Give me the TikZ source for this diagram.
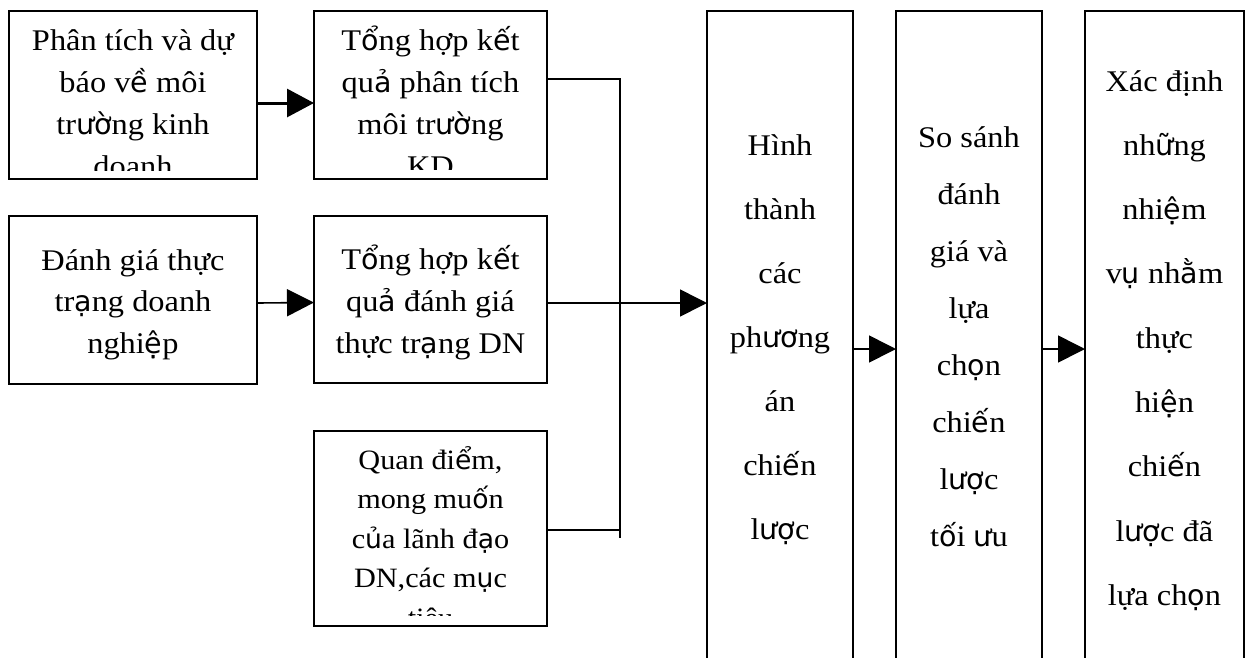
\documentclass[tikz,border=0pt]{standalone}
\usepackage{fontspec}
\setmainfont{Liberation Serif}[FakeStretch=1.08]
\newfontfamily\vnsans{DejaVu Sans}[Scale=0.95,FakeStretch=1.0]
\newcommand\vsg[1]{{\vnsans #1}}
\usetikzlibrary{arrows.meta}
\tikzset{
  box/.style={draw, line width=1.5pt, inner sep=0pt, outer sep=0pt, anchor=north west},
  txt/.style={anchor=base, inner sep=0pt, outer sep=0pt},
  link/.style={line width=1.5pt},
  arr/.style={line width=1.6pt, -{Triangle[length=27pt,width=27pt]}},
  thickarr/.style={line width=3pt, -{Triangle[length=27pt,width=28pt]}},
}
\begin{document}
\begin{tikzpicture}[x=1pt,y=-1pt]
\useasboundingbox (0,0) rectangle (1251,657);
\clip (0,0) rectangle (1251,657);
\fill[white] (0,0) rectangle (1251,657);

% boxes
\node[box, minimum width=248pt, minimum height=168pt] (A1) at (9,11) {};
\node[box, minimum width=233pt, minimum height=168pt] (B1) at (314,11) {};
\node[box, minimum width=248pt, minimum height=168pt] (A2) at (9,216) {};
\node[box, minimum width=233pt, minimum height=167pt] (B2) at (314,216) {};
\node[box, minimum width=233pt, minimum height=195pt] (B3) at (314,431) {};
\node[box, minimum width=146pt, minimum height=700pt] (C) at (707,11) {};
\node[box, minimum width=146pt, minimum height=700pt] (D) at (896,11) {};
\node[box, minimum width=159pt, minimum height=700pt] (E) at (1085,11) {};

% texts
\begin{scope}
\clip (9,11) rectangle (257,170);
\node[txt] (tA1) at (133,50.5) {\parbox[t]{240pt}{\centering\fontsize{30}{42}\selectfont
Phân tích và dự\\ báo v\vsg{ề} môi\\ tr\vsg{ườ}ng kinh\\ doanh}};
\end{scope}
\begin{scope}
\clip (314,11) rectangle (547,169);
\node[txt] (tB1) at (430.5,50.5) {\parbox[t]{228pt}{\centering\fontsize{30}{42}\selectfont
T\vsg{ổ}ng hợp k\vsg{ế}t\\ qu\vsg{ả} phân tích\\ môi tr\vsg{ườ}ng\\ KD}};
\end{scope}
\node[txt] (tA2) at (133,270) {\parbox[t]{240pt}{\centering\fontsize{30}{41.5}\selectfont
Đánh giá thực\\ tr\vsg{ạ}ng doanh\\ nghi\vsg{ệ}p}};
\node[txt] (tB2) at (430.5,269.5) {\parbox[t]{228pt}{\centering\fontsize{30}{42}\selectfont
T\vsg{ổ}ng hợp k\vsg{ế}t\\ qu\vsg{ả} đánh giá\\ thực tr\vsg{ạ}ng DN}};
\begin{scope}
\clip (314,431) rectangle (547,615);
\node[txt] (tB3) at (430.5,469) {\parbox[t]{228pt}{\centering\fontsize{28}{39.5}\selectfont
Quan đi\vsg{ể}m,\\ mong mu\vsg{ố}n\\ c\vsg{ủ}a lãnh đ\vsg{ạ}o\\ DN,các m\vsg{ụ}c\\ tiêu}};
\end{scope}
\node[txt] (tC) at (780,155) {\parbox[t]{140pt}{\centering\fontsize{30}{64}\selectfont
Hình\\ thành\\ các\\ ph\vsg{ươ}ng\\ án\\ chi\vsg{ế}n\\ l\vsg{ượ}c}};
\node[txt] (tD) at (969,147) {\parbox[t]{140pt}{\centering\fontsize{30}{57.1}\selectfont
So sánh\\ đánh\\ giá và\\ lựa\\ ch\vsg{ọ}n\\ chi\vsg{ế}n\\ l\vsg{ượ}c\\ t\vsg{ố}i \vsg{ư}u}};
\node[txt] (tE) at (1164.5,91) {\parbox[t]{155pt}{\centering\fontsize{30}{64.3}\selectfont
Xác định\\ nh\vsg{ữ}ng\\ nhi\vsg{ệ}m\\ v\vsg{ụ} nh\vsg{ằ}m\\ thực\\ hi\vsg{ệ}n\\ chi\vsg{ế}n\\ l\vsg{ượ}c đã\\ lựa ch\vsg{ọ}n}};

% connectors
\coordinate (bus) at (620,538);
\coordinate (row) at (0,349);
\draw[thickarr] ([yshift=-8pt]A1.east) -- ([yshift=-8pt]B1.west);
\draw[arr] ([yshift=-3pt]A2.east) -- ([yshift=-3pt]B2.west);
\draw[link] ([yshift=16pt]B1.east) -| (bus);
\draw[link] ([yshift=-1.5pt]B3.east) -- ([yshift=-1.5pt]B3.east -| bus);
\draw[arr] ([yshift=-3.5pt]B2.east) -- ([yshift=-3.5pt]B2.east -| C.west);
\draw[arr] (C.east |- row) -- (D.west |- row);
\draw[arr] (D.east |- row) -- (E.west |- row);
\end{tikzpicture}
\end{document}
